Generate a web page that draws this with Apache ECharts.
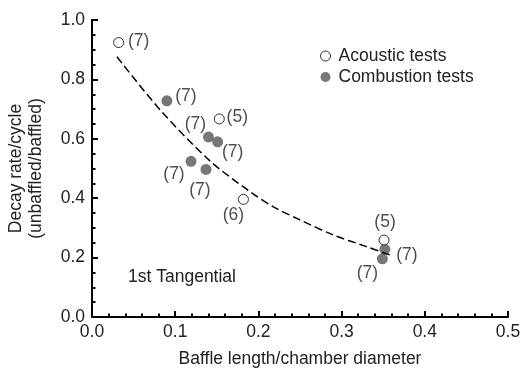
<!DOCTYPE html>
<html>
<head>
<meta charset="utf-8">
<script src="https://cdn.jsdelivr.net/npm/echarts@6/dist/echarts.min.js"></script>
<style>
  html, body { margin: 0; padding: 0; background: #fff; }
  #chart { width: 520px; height: 369px; }
</style>
</head>
<body>
<div id="chart"></div>
<script>
// acoustic tests (open circles)
var acousticX = [0.032, 0.153, 0.182, 0.351];
var acousticY = [0.924, 0.667, 0.396, 0.259];
var acousticN = ['(7)', '(5)', '(6)', '(5)'];

// combustion tests (filled circles)
var combustionX = [0.090, 0.140, 0.151, 0.119, 0.137, 0.352, 0.349];
var combustionY = [0.728, 0.606, 0.590, 0.524, 0.497, 0.228, 0.196];
var combustionN = ['(7)', '(7)', '(7)', '(7)', '(7)', '(7)', '(7)'];

// dashed fit line
var fitX = [0.030, 0.082, 0.142, 0.190, 0.218, 0.250, 0.290, 0.330, 0.358];
var fitY = [0.876, 0.697, 0.525, 0.422, 0.371, 0.327, 0.276, 0.237, 0.209];

// label offsets (px) from the marker centre
var acousticOff = [[20, -1], [18, -2], [-10, 16], [1, -18]];
var combustionOff = [[19, -5], [-13, -13], [15, 10], [-17, 13], [-6, 21], [22, 6], [-15, 14]];

var font = 'Liberation Sans, Arial, sans-serif';
var fs = 17.5;
var txt = '#222';

function pts(xs, ys, ns, offs) {
  var out = [];
  for (var i = 0; i < xs.length; i++) {
    out.push({
      value: [xs[i], ys[i]],
      label: { show: true, formatter: ns[i], position: 'inside', offset: offs[i] }
    });
  }
  return out;
}

var fitData = [];
for (var i = 0; i < fitX.length; i++) fitData.push([fitX[i], fitY[i]]);

var chart = echarts.init(document.getElementById('chart'));
chart.setOption({
  animation: false,
  backgroundColor: '#fff',
  textStyle: { fontFamily: font },
  grid: { left: 92, right: 12, top: 20, bottom: 52, outerBoundsMode: 'none' },
  legend: {
    orient: 'vertical',
    left: 315, top: 42,
    itemWidth: 10, itemHeight: 10, itemGap: 3,
    data: [
      { name: 'Acoustic tests', itemStyle: { borderWidth: 1, borderColor: '#000', color: '#fff' } },
      { name: 'Combustion tests' }
    ],
    textStyle: { fontFamily: font, fontSize: fs, color: txt, padding: [0, 0, 0, 3] }
  },
  xAxis: [{
    type: 'value', min: 0, max: 0.5, interval: 0.1,
    name: 'Baffle length/chamber diameter',
    nameLocation: 'middle', nameGap: 33,
    nameTextStyle: { fontFamily: font, fontSize: fs, color: txt },
    axisLine: { show: true, lineStyle: { color: '#000', width: 2 } },
    axisTick: { show: true, inside: true, length: 6, lineStyle: { color: '#000', width: 2 } },
    minorTick: { show: true, splitNumber: 5, length: 3.5, lineStyle: { color: '#000', width: 2 } },
    splitLine: { show: false },
    axisLabel: {
      fontFamily: font, fontSize: fs, color: txt, margin: 6,
      formatter: function (v) { return v.toFixed(1); }
    }
  }, {
    // top frame line
    type: 'value', position: 'top', min: 0, max: 0.5,
    axisLine: { show: true, lineStyle: { color: '#000', width: 1.5 } },
    axisTick: { show: false }, axisLabel: { show: false }, splitLine: { show: false }
  }],
  yAxis: [{
    type: 'value', min: 0, max: 1, interval: 0.2,
    name: 'Decay rate/cycle\n(unbaffled/baffled)',
    nameLocation: 'middle', nameGap: 46,
    nameTextStyle: { fontFamily: font, fontSize: fs, color: txt, lineHeight: 20 },
    axisLine: { show: true, lineStyle: { color: '#000', width: 2 } },
    axisTick: { show: true, inside: true, length: 6, lineStyle: { color: '#000', width: 2 } },
    minorTick: { show: true, splitNumber: 4, length: 3.5, lineStyle: { color: '#000', width: 2 } },
    splitLine: { show: false },
    axisLabel: {
      fontFamily: font, fontSize: fs, color: txt, margin: 7,
      formatter: function (v) { return v.toFixed(1); }
    }
  }, {
    // right frame line
    type: 'value', position: 'right', min: 0, max: 1,
    axisLine: { show: true, lineStyle: { color: '#000', width: 1.5 } },
    axisTick: { show: false }, axisLabel: { show: false }, splitLine: { show: false }
  }],
  graphic: [{
    type: 'text', left: 128, top: 268,
    style: { text: '1st Tangential', fontFamily: font, fontSize: fs, fill: txt }
  }],
  series: [
    {
      name: 'fit', type: 'line', data: fitData, smooth: 0.3,
      showSymbol: false, silent: true,
      lineStyle: { color: '#000', width: 1.5, type: [8, 4] }
    },
    {
      name: 'Acoustic tests', type: 'scatter', symbol: 'circle', symbolSize: 10,
      data: pts(acousticX, acousticY, acousticN, acousticOff),
      itemStyle: { color: '#fff', borderColor: '#000', borderWidth: 1 },
      label: { fontFamily: font, fontSize: fs, color: txt }
    },
    {
      name: 'Combustion tests', type: 'scatter', symbol: 'circle', symbolSize: 11,
      data: pts(combustionX, combustionY, combustionN, combustionOff),
      itemStyle: { color: '#555' },
      label: { fontFamily: font, fontSize: fs, color: txt }
    }
  ]
});
</script>
</body>
</html>
